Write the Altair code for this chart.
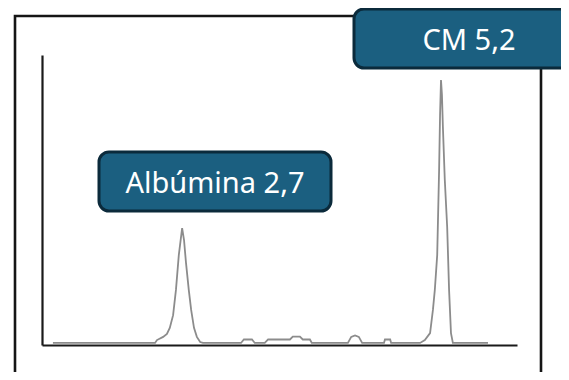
import altair as alt
import pandas as pd

# Electrophoresis trace (migration units 0-100, relative intensity 0-100)
migration = [2.3, 23.8, 24.2, 25.5, 26.3, 26.9, 27.6, 28.2, 28.8, 29.5, 29.9, 30.3,
             30.9, 31.4, 32.0, 32.6, 33.3, 33.9, 41.9, 42.5, 44.2, 44.8, 46.9, 47.6,
             52.2, 52.8, 54.3, 54.9, 56.4, 56.8, 64.4, 65.1, 65.9, 66.7, 67.4, 72.0,
             72.2, 73.3, 73.5, 79.6, 80.6, 81.7, 82.3, 82.7, 83.2, 83.6, 83.8, 84.0,
             84.2, 84.4, 84.8, 85.3, 85.7, 86.1, 86.5, 93.9]
intensity = [0.7, 0.7, 1.7, 2.8, 3.8, 5.9, 10.3, 19.0, 31.0, 40.3, 36.2, 28.6,
             19.0, 12.1, 5.9, 2.8, 1.0, 0.7, 0.7, 1.9, 1.9, 0.7, 0.7, 1.9,
             1.9, 2.9, 2.9, 1.9, 1.9, 0.7, 0.7, 2.8, 3.3, 2.8, 0.7, 0.7,
             1.9, 1.9, 0.7, 0.7, 1.7, 4.1, 12.1, 19.0, 31.0, 60.3, 79.3, 91.4,
             86.2, 75.2, 56.9, 40.7, 19.0, 4.1, 0.7, 0.7]
labels = ["Albúmina 2,7", "CM 5,2"]

trace = pd.DataFrame({"x": migration, "y": intensity})

FILL = "#1b5f80"
EDGE = "#0b2a3b"
FONT = "Noto Sans"

frame = alt.Chart(alt.Data(values=[{"k": 1}])).mark_rect(
    fill="transparent", stroke="#151515", strokeWidth=2.6
).encode(x=alt.value(-27), x2=alt.value(499), y=alt.value(-39), y2=alt.value(360))

line = alt.Chart(trace).mark_line(color="#8c8c8c", strokeWidth=1.8, interpolate="linear").encode(
    x=alt.X("x:Q", scale=alt.Scale(domain=[0, 100], nice=False, zero=False),
            axis=alt.Axis(labels=False, ticks=False, grid=False, title=None,
                          domainColor="#1a1a1a", domainWidth=2.2)),
    y=alt.Y("y:Q", scale=alt.Scale(domain=[0, 100], nice=False),
            axis=alt.Axis(labels=False, ticks=False, grid=False, title=None,
                          domainColor="#1a1a1a", domainWidth=2.2)),
)

lab1 = pd.DataFrame({"t": [labels[0]]})
lab2 = pd.DataFrame({"t": [labels[1]]})

box1 = alt.Chart(lab1).mark_rect(fill=FILL, stroke=EDGE, strokeWidth=3, cornerRadius=10).encode(
    x=alt.value(57), x2=alt.value(289), y=alt.value(97), y2=alt.value(156))
txt1 = alt.Chart(lab1).mark_text(font=FONT, fontSize=29, color="white", align="center",
                                 baseline="alphabetic").encode(
    text="t:N", x=alt.value(173), y=alt.value(138))

box2 = alt.Chart(lab2).mark_rect(fill=FILL, stroke=EDGE, strokeWidth=3, cornerRadius=10).encode(
    x=alt.value(312), x2=alt.value(560), y=alt.value(-46), y2=alt.value(13))
txt2 = alt.Chart(lab2).mark_text(font=FONT, fontSize=29, color="white", align="center",
                                 baseline="alphabetic").encode(
    text="t:N", x=alt.value(427), y=alt.value(-5))

chart = alt.layer(frame, line, box1, txt1, box2, txt2).properties(
    width=475, height=290,
    padding={"left": 34, "top": 47, "right": 44, "bottom": 27},
    autosize=alt.AutoSizeParams(type="none"),
    background="white",
).configure_view(strokeWidth=0)

chart.save("out.html", embed_options={"renderer": "svg", "actions": False})
